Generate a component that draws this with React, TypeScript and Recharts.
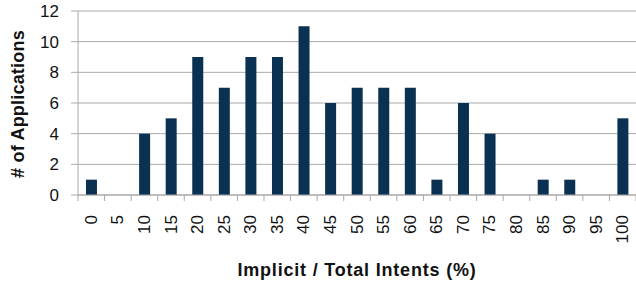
import React from 'react';
import { BarChart, Bar, XAxis, YAxis, CartesianGrid } from 'recharts';

const categories = ['0','5','10','15','20','25','30','35','40','45','50','55','60','65','70','75','80','85','90','95','100'];
const counts = [1,0,4,5,9,7,9,9,11,6,7,7,7,1,6,4,0,1,1,0,5];
const yTicks = [0,2,4,6,8,10,12];

const data = categories.map((c, i) => ({ bin: c, count: counts[i] }));

const W = 636;
const H = 287;
const Y_AXIS_W = 78;
const BAND = (W - Y_AXIS_W) / categories.length;
const GRID = '#a9a9a9';
const FONT = '"Liberation Sans", Arial, Helvetica, sans-serif';

const XTick = (props: any) => {
  const { x, y, payload, index } = props;
  const half = BAND / 2;
  const ty = y + 20;
  return (
    <g>
      <line x1={x - half} x2={x - half} y1={y} y2={y + 6} stroke={GRID} strokeWidth={1} />
      {index === categories.length - 1 && (
        <line x1={x + half} x2={x + half} y1={y} y2={y + 6} stroke={GRID} strokeWidth={1} />
      )}
      <text
        x={x}
        y={ty}
        transform={`rotate(-90, ${x}, ${ty})`}
        textAnchor="end"
        dominantBaseline="central"
        fontSize={17}
        fontFamily={FONT}
        fill="#111"
      >
        {payload.value}
      </text>
    </g>
  );
};

export default function App() {
  return (
    <div style={{ position: 'absolute', left: 0, top: 0 }}>
      <BarChart
        width={W}
        height={H}
        data={data}
        margin={{ top: 11, right: 0, bottom: 0, left: 0 }}
        barCategoryGap="30%"
      >
        <CartesianGrid vertical={false} stroke={GRID} strokeWidth={1} />
        <XAxis
          dataKey="bin"
          height={92}
          tickLine={false}
          tickSize={0}
          tickMargin={0}
          axisLine={{ stroke: GRID }}
          interval={0}
          tick={<XTick />}
          label={{
            content: (p: any) => {
              const vb = p.viewBox;
              return (
                <text
                  x={vb.x + vb.width / 2 + 0}
                  y={vb.y + vb.height - 11}
                  textAnchor="middle"
                  fontSize={18}
                  fontWeight="bold"
                  letterSpacing={0.8}
                  fontFamily={FONT}
                  fill="#111"
                >
                  Implicit / Total Intents (%)
                </text>
              );
            },
          }}
        />
        <YAxis
          width={Y_AXIS_W}
          domain={[0, 12]}
          ticks={yTicks}
          interval={0}
          tickSize={7}
          tickMargin={12}
          tickLine={{ stroke: GRID }}
          axisLine={{ stroke: GRID }}
          tick={{ fontSize: 17, fontFamily: FONT, fill: '#111' }}
          label={{
            content: (p: any) => {
              const vb = p.viewBox;
              const cx = vb.x + 17.5;
              const cy = vb.y + vb.height / 2 + 1;
              return (
                <text
                  x={cx}
                  y={cy}
                  transform={`rotate(-90, ${cx}, ${cy})`}
                  textAnchor="middle"
                  dominantBaseline="central"
                  fontSize={18}
                  fontWeight="bold"
                  letterSpacing={0.2}
                  fontFamily={FONT}
                  fill="#111"
                >
                  # of Applications
                </text>
              );
            },
          }}
        />
        <Bar dataKey="count" fill="#0a3152" isAnimationActive={false} />
      </BarChart>
    </div>
  );
}
